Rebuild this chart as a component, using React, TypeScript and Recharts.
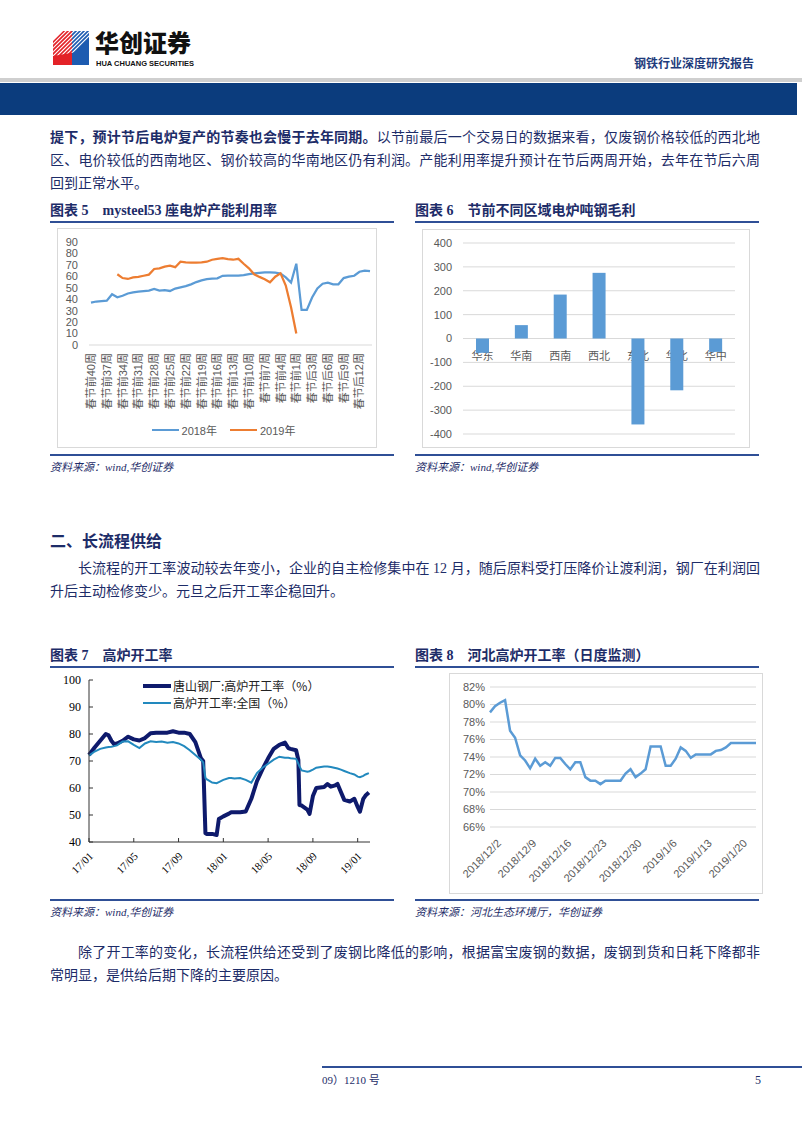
import React from "react";
import { LineChart, Line, BarChart, Bar, XAxis, YAxis, CartesianGrid, Legend } from "recharts";

// 图表5 mysteel53 座电炉产能利用率
const weekLabels = [
  "春节前40周", "春节前39周", "春节前38周", "春节前37周", "春节前36周", "春节前35周",
  "春节前34周", "春节前33周", "春节前32周", "春节前31周", "春节前30周", "春节前29周",
  "春节前28周", "春节前27周", "春节前26周", "春节前25周", "春节前24周", "春节前23周",
  "春节前22周", "春节前21周", "春节前20周", "春节前19周", "春节前18周", "春节前17周",
  "春节前16周", "春节前15周", "春节前14周", "春节前13周", "春节前12周", "春节前11周",
  "春节前10周", "春节前9周", "春节前8周", "春节前7周", "春节前6周", "春节前5周",
  "春节前4周", "春节前3周", "春节前2周", "春节前1周",
  "春节后1周", "春节后2周", "春节后3周", "春节后4周", "春节后5周", "春节后6周",
  "春节后7周", "春节后8周", "春节后9周", "春节后10周", "春节后11周", "春节后12周",
  "春节后13周", "春节后14周",
];
const util2018 = [
  37, 38, 38.3, 38.7, 44.3, 41.7, 43, 45, 46, 46.6, 47, 47.5, 49, 47.5, 48, 47.2,
  49.3, 50.4, 51.5, 53, 55, 56.5, 57.5, 58, 58.3, 60.5, 60.6, 60.6, 60.6, 61, 62,
  62.5, 63, 63.5, 63.5, 63.3, 62.5, 59, 54.5, 71, 30.6, 30.6, 41.5, 49.5, 53.5,
  54.5, 53, 53, 58.5, 59.7, 60.5, 64, 65, 64.5,
];
const util2019 = [
  null, null, null, null, null, 61.8, 58.5, 57.7, 59, 59.5, 60.5, 61.5, 66.4, 67,
  68.5, 69.3, 68, 72.8, 72.2, 72, 72, 72.3, 72.8, 74.5, 75.3, 75.8, 75, 74.5, 75.3,
  71, 67, 61.8, 59.5, 57.5, 54.8, 59.7, 62.6, 52, 33, 10,
  null, null, null, null, null, null, null, null, null, null, null, null, null, null,
];

// 图表6 节前不同区域电炉吨钢毛利
const regions = ["华东", "华南", "西南", "西北", "东北", "华北", "华中"];
const grossMargin = [-60, 56, 184, 275, -360, -217, -56];

// 图表7 高炉开工率 (月份序号, 0 = 17/01)
const bfMonth = [
  0, 0.5, 1, 1.5, 1.75, 2, 2.25, 2.5, 3, 3.5, 4, 4.5, 5, 5.5, 6, 6.5, 7, 7.5, 8, 8.5,
  9, 9.5, 10, 10.2, 10.4, 10.5, 11, 11.4, 11.6, 12, 12.5, 12.7, 13, 13.5, 14, 14.5,
  15, 15.5, 16, 16.5, 17, 17.5, 17.8, 18, 18.5, 18.7, 18.8, 19, 19.5, 19.7, 20, 20.3,
  21, 21.3, 21.6, 22, 22.2, 22.5, 22.8, 23.3, 23.7, 24, 24.2, 24.5, 24.7, 25,
];
const tangshanRate = [
  72.2, 75, 77.5, 80, 79.5, 77.5, 76.2, 76.5, 77.5, 79, 78, 77.6, 78.5, 80.3, 80.5,
  80.5, 80.5, 81, 80.5, 80.5, 80, 77, 71, 70, 43.3, 43, 43, 42.6, 48.5, 49.5, 50.5,
  51, 51, 51, 51.3, 56, 62.5, 67, 71, 74.5, 76, 76.8, 74.8, 74.5, 74, 70.4, 53.7,
  53.5, 52, 50.4, 57, 60, 60.4, 61.5, 60.5, 61, 61.5, 58.5, 55.6, 55, 56, 53, 51.2,
  56, 57.2, 58.3,
];
const nationalRate = [
  72, 73.5, 74.5, 75, 75.2, 75.3, 75.5, 75.8, 77.2, 77.3, 76, 74.8, 76.5, 77.3, 77,
  77.2, 76.8, 77, 76.5, 75.5, 74, 72.2, 70.5, 69.5, 63.7, 63.3, 62, 61.8, 62.2, 63,
  63.7, 63.7, 63.5, 63.7, 63, 62, 65.5, 67.5, 69, 70.5, 71.6, 71.2, 71.2, 71, 70.8,
  69, 68, 66.5, 66, 66.2, 66.8, 67.5, 68, 68, 67.8, 67.4, 67.2, 66.8, 66.3, 65.5, 65,
  64.2, 64, 64.5, 65, 65.5,
];
const bfTickPos = [0, 4, 8, 12, 16, 20, 24];
const bfTickLabels = ["17/01", "17/05", "17/09", "18/01", "18/05", "18/09", "19/01"];

// 图表8 河北高炉开工率（日度监测）
const hbDates = [
  "2018/12/2", "2018/12/3", "2018/12/4", "2018/12/5", "2018/12/6", "2018/12/7", "2018/12/8",
  "2018/12/9", "2018/12/10", "2018/12/11", "2018/12/12", "2018/12/13", "2018/12/14", "2018/12/15",
  "2018/12/16", "2018/12/17", "2018/12/18", "2018/12/19", "2018/12/20", "2018/12/21", "2018/12/22",
  "2018/12/23", "2018/12/24", "2018/12/25", "2018/12/26", "2018/12/27", "2018/12/28", "2018/12/29",
  "2018/12/30", "2018/12/31", "2019/1/1", "2019/1/2", "2019/1/3", "2019/1/4", "2019/1/5",
  "2019/1/6", "2019/1/7", "2019/1/8", "2019/1/9", "2019/1/10", "2019/1/11", "2019/1/12",
  "2019/1/13", "2019/1/14", "2019/1/15", "2019/1/16", "2019/1/17", "2019/1/18", "2019/1/19",
  "2019/1/20", "2019/1/21", "2019/1/22", "2019/1/23", "2019/1/24",
];
const hbRate = [
  79.1, 79.8, 80.2, 80.5, 77, 76.2, 74.2, 73.6, 72.7, 73.8, 73, 73.4, 73, 73.9, 73.9,
  73.2, 72.6, 73.4, 73.4, 71.7, 71.3, 71.3, 70.9, 71.3, 71.3, 71.3, 71.3, 72.1, 72.6,
  71.7, 72.1, 72.6, 75.2, 75.2, 75.2, 73, 73, 73.8, 75.1, 74.7, 73.9, 74.3, 74.3, 74.3,
  74.3, 74.7, 74.8, 75.1, 75.6, 75.6, 75.6, 75.6, 75.6, 75.6,
];

const NAVY = "#1d2c68";
const RULE = "#2f4f96";
const GRAY = "#595959";
const BODY = '"Liberation Serif", "Noto Sans CJK SC", serif';
const SANS = '"Liberation Sans", "Noto Sans CJK SC", sans-serif';
const CJK = '"Noto Sans CJK SC", sans-serif';

const weekData = weekLabels.map((w, i) => ({ week: w, y2018: util2018[i], y2019: util2019[i] }));
const regionData = regions.map((r, i) => ({ region: r, margin: grossMargin[i] }));
const bfData = bfMonth.map((t, i) => ({ t, tangshan: tangshanRate[i], national: nationalRate[i] }));
const hbData = hbDates.map((d, i) => ({ date: d, rate: hbRate[i] }));

function Txt({ x, y, size, children, style }: any) {
  return (
    <div
      style={{
        position: "absolute",
        left: x,
        top: y - (size + 4) / 2,
        fontSize: size,
        lineHeight: `${size + 4}px`,
        whiteSpace: "nowrap",
        ...style,
      }}
    >
      {children}
    </div>
  );
}

function JLine({ x = 50, y, w = 710, last = false, children }: any) {
  return (
    <div
      style={{
        position: "absolute",
        left: x,
        top: y - 11,
        width: w,
        height: 22,
        lineHeight: "22px",
        fontSize: 14,
        fontFamily: BODY,
        color: NAVY,
        whiteSpace: "nowrap",
        textAlign: "justify",
        textAlignLast: last ? "left" : "justify",
      }}
    >
      {children}
    </div>
  );
}

const Rule = ({ x, y, w }: any) => (
  <div style={{ position: "absolute", left: x, top: y, width: w, height: 2, background: RULE }} />
);

const Title = ({ x, y, num, text }: any) => (
  <Txt x={x} y={y} size={14} style={{ fontFamily: BODY, fontWeight: 700, color: NAVY }}>
    图表 {num}
    <span style={{ marginLeft: 14 }}>{text}</span>
  </Txt>
);

const Source = ({ x, y, text }: any) => (
  <Txt x={x} y={y} size={11} style={{ fontFamily: BODY, fontStyle: "italic", color: NAVY }}>
    {text}
  </Txt>
);

const Box = ({ x, y, w, h }: any) => (
  <div
    style={{
      position: "absolute",
      left: x,
      top: y,
      width: w,
      height: h,
      border: "1px solid #d9d9d9",
      boxSizing: "border-box",
    }}
  />
);

// ---------- chart 5 ----------
const WeekTick = ({ x, y, payload }: any) => (
  <text
    x={x}
    y={y}
    transform={`rotate(-90 ${x} ${y})`}
    textAnchor="end"
    dominantBaseline="central"
    fontSize={11}
    fontFamily={SANS}
    fill={GRAY}
  >
    {payload.value}
  </text>
);

const WeekLegend = ({ payload }: any) => (
  <div
    style={{
      display: "flex",
      justifyContent: "center",
      alignItems: "center",
      height: 20,
      fontFamily: SANS,
      fontSize: 11,
      color: GRAY,
    }}
  >
    {(payload || []).map((p: any, i: number) => (
      <div key={i} style={{ display: "flex", alignItems: "center", marginLeft: i ? 13 : 0 }}>
        <span style={{ display: "inline-block", width: 27, height: 2.5, background: p.color, marginRight: 3 }} />
        {p.value}
      </div>
    ))}
  </div>
);

function UtilChart() {
  return (
    <div style={{ position: "absolute", left: 57, top: 228 }}>
      <LineChart width={320} height={220} data={weekData} margin={{ top: 14, right: 5, left: 0, bottom: 30 }}>
        <XAxis
          dataKey="week"
          interval={2}
          height={73}
          padding={{ left: 2, right: 2 }}
          axisLine={{ stroke: "#d9d9d9" }}
          tickLine={false}
          tick={<WeekTick />}
        />
        <YAxis
          domain={[0, 90]}
          ticks={[0, 10, 20, 30, 40, 50, 60, 70, 80, 90]}
          interval={0}
          width={32}
          axisLine={false}
          tickLine={false}
          tickSize={0}
          tickMargin={11}
          tick={{ fontSize: 11, fill: GRAY, fontFamily: SANS }}
        />
        <Legend
          layout="vertical"
          align="center"
          verticalAlign="middle"
          wrapperStyle={{ left: 25, top: 192, width: 283, height: 20 }}
          content={<WeekLegend />}
        />
        <Line name="2018年" dataKey="y2018" stroke="#5B9BD5" strokeWidth={2.25} dot={false} isAnimationActive={false} />
        <Line name="2019年" dataKey="y2019" stroke="#ED7D31" strokeWidth={2.25} dot={false} isAnimationActive={false} />
      </LineChart>
    </div>
  );
}

// ---------- chart 6 ----------
const RegionBar = (props: any) => {
  const { x, y, width, height, payload, fill } = props;
  const top = Math.min(y, y + height);
  const bottom = Math.max(y, y + height);
  const zeroY = payload.margin >= 0 ? bottom : top;
  return (
    <g>
      <text
        x={x + width / 2}
        y={zeroY + 16}
        textAnchor="middle"
        dominantBaseline="central"
        fontSize={11}
        fontFamily={CJK}
        fill={GRAY}
      >
        {payload.region}
      </text>
      <rect x={x} y={top} width={width} height={bottom - top} fill={fill} />
    </g>
  );
};

function MarginChart() {
  return (
    <div style={{ position: "absolute", left: 422, top: 229 }}>
      <BarChart width={328} height={219} data={regionData} margin={{ top: 14, right: 15, left: 0, bottom: 14 }}>
        <CartesianGrid vertical={false} stroke="#d9d9d9" />
        <XAxis dataKey="region" hide />
        <YAxis
          domain={[-400, 400]}
          ticks={[-400, -300, -200, -100, 0, 100, 200, 300, 400]}
          interval={0}
          width={41}
          axisLine={false}
          tickLine={false}
          tickSize={0}
          tickMargin={11}
          tick={{ fontSize: 11, fill: GRAY, fontFamily: SANS }}
        />
        <Bar dataKey="margin" fill="#5B9BD5" barSize={13} shape={<RegionBar />} isAnimationActive={false} />
      </BarChart>
    </div>
  );
}

// ---------- chart 7 ----------
const MonthTick = ({ x, y, payload }: any) => {
  const label = bfTickLabels[bfTickPos.indexOf(payload.value)];
  const ax = x + 2;
  const ay = y + 4;
  return (
    <text
      x={ax}
      y={ay}
      transform={`rotate(-45 ${ax} ${ay})`}
      textAnchor="end"
      dominantBaseline="central"
      fontSize={11}
      fontFamily="Liberation Serif"
      fill="#000"
    >
      {label}
    </text>
  );
};

const BfLegend = ({ payload }: any) => (
  <div style={{ fontFamily: CJK, fontSize: 12, color: "#222" }}>
    {(payload || []).map((p: any, i: number) => (
      <div key={i} style={{ display: "flex", alignItems: "center", height: 17 }}>
        <span
          style={{ display: "inline-block", width: 28, height: i === 0 ? 4 : 2, background: p.color, marginRight: 2 }}
        />
        {p.value}
      </div>
    ))}
  </div>
);

function BlastChart() {
  return (
    <div style={{ position: "absolute", left: 50, top: 670 }}>
      <LineChart width={330} height={215} data={bfData} margin={{ top: 10, right: 10, left: 0, bottom: 0 }}>
        <XAxis
          type="number"
          dataKey="t"
          domain={[0, 25.1]}
          ticks={bfTickPos}
          interval={0}
          height={43}
          stroke="#333"
          tickSize={-4}
          tickMargin={12}
          tick={<MonthTick />}
        />
        <YAxis
          domain={[40, 100]}
          ticks={[40, 50, 60, 70, 80, 90, 100]}
          interval={0}
          width={39}
          stroke="#333"
          tickSize={-4}
          tickMargin={12}
          tick={{ fontSize: 12, fill: "#000", fontFamily: "Liberation Serif" }}
        />
        <Legend
          layout="vertical"
          align="center"
          verticalAlign="middle"
          wrapperStyle={{ left: 93, top: 7, width: 230, height: 34 }}
          content={<BfLegend />}
        />
        <Line
          name="唐山钢厂:高炉开工率（%）"
          dataKey="tangshan"
          stroke="#0e1a6c"
          strokeWidth={4}
          strokeLinejoin="round"
          dot={false}
          isAnimationActive={false}
        />
        <Line
          name="高炉开工率:全国（%）"
          dataKey="national"
          stroke="#2289be"
          strokeWidth={2}
          dot={false}
          isAnimationActive={false}
        />
      </LineChart>
    </div>
  );
}

// ---------- chart 8 ----------
const DateTick = ({ x, y, payload }: any) => {
  const ax = x + 9;
  const ay = y + 6;
  return (
    <text
      x={ax}
      y={ay}
      transform={`rotate(-45 ${ax} ${ay})`}
      textAnchor="end"
      dominantBaseline="central"
      fontSize={11}
      fontFamily={SANS}
      fill={GRAY}
    >
      {payload.value}
    </text>
  );
};

function HebeiChart() {
  return (
    <div style={{ position: "absolute", left: 449, top: 673 }}>
      <LineChart width={314} height={221} data={hbData} margin={{ top: 14, right: 7, left: 0, bottom: 0 }}>
        <CartesianGrid vertical={false} stroke="#d9d9d9" />
        <XAxis dataKey="date" interval={6} height={67} axisLine={false} tickLine={false} tick={<DateTick />} />
        <YAxis
          domain={[66, 82]}
          ticks={[66, 68, 70, 72, 74, 76, 78, 80, 82]}
          interval={0}
          tickFormatter={(v: number) => `${v}%`}
          width={41}
          axisLine={false}
          tickLine={false}
          tickSize={0}
          tickMargin={5}
          tick={{ fontSize: 11, fill: GRAY, fontFamily: SANS }}
        />
        <Line dataKey="rate" stroke="#5B9BD5" strokeWidth={2.5} dot={false} isAnimationActive={false} />
      </LineChart>
    </div>
  );
}

const Logo = () => (
  <svg width={36} height={35} style={{ position: "absolute", left: 53, top: 30 }}>
    <defs>
      <clipPath id="stripes">
        <polygon points="0,11 10,0 36,0 36,20 0,26" />
      </clipPath>
    </defs>
    <polygon points="0,11 10,1 19,1 19,35 0,35" fill="#e32228" />
    <rect x={19} y={1} width={17} height={34} fill="#1d5bb0" />
    <g clipPath="url(#stripes)" stroke="#fff" strokeWidth={1.1}>
      {[6, 10, 14, 18, 22, 26, 30, 34, 38, 42].map((s) => (
        <line key={s} x1={s} y1={0} x2={s - 26} y2={26} />
      ))}
    </g>
  </svg>
);

export default function App() {
  return (
    <div
      style={{
        position: "absolute",
        left: 0,
        top: 0,
        width: 802,
        height: 1133,
        background: "#fff",
        overflow: "hidden",
        fontFamily: BODY,
      }}
    >
      {/* header */}
      <Logo />
      <div
        style={{
          position: "absolute",
          left: 95,
          top: 30,
          height: 24,
          fontSize: 24,
          lineHeight: "24px",
          fontFamily: CJK,
          fontWeight: 900,
          color: "#111",
          whiteSpace: "nowrap",
        }}
      >
        华创证券
      </div>
      <div
        style={{
          position: "absolute",
          left: 96,
          top: 60,
          height: 8,
          fontSize: 7.5,
          lineHeight: "8px",
          fontFamily: "Liberation Sans",
          fontWeight: 700,
          color: "#111",
          whiteSpace: "nowrap",
        }}
      >
        HUA CHUANG SECURITIES
      </div>
      <Txt x={634} y={63} size={12} style={{ fontFamily: CJK, fontWeight: 700, color: "#1f3c7c" }}>
        钢铁行业深度研究报告
      </Txt>
      <div style={{ position: "absolute", left: 0, top: 78, width: 802, height: 4, background: "#cfcfcf" }} />
      <div style={{ position: "absolute", left: 0, top: 83, width: 797, height: 32, background: "#0b3c7d" }} />

      {/* paragraph 1 */}
      <JLine y={138}>
        <b>提下，预计节后电炉复产的节奏也会慢于去年同期。</b>以节前最后一个交易日的数据来看，仅废钢价格较低的西北地
      </JLine>
      <JLine y={161}>
        区、电价较低的西南地区、钢价较高的华南地区仍有利润。产能利用率提升预计在节后两周开始，去年在节后六周
      </JLine>
      <JLine y={184} last>
        回到正常水平。
      </JLine>

      <Title x={50} y={211} num="5" text="mysteel53 座电炉产能利用率" />
      <Title x={415} y={211} num="6" text="节前不同区域电炉吨钢毛利" />
      <Rule x={50} y={221} w={344} />
      <Rule x={415} y={221} w={344} />

      <Box x={57} y={228} w={320} h={220} />
      <UtilChart />
      <Box x={422} y={229} w={328} h={219} />
      <MarginChart />

      <Rule x={50} y={454} w={344} />
      <Rule x={415} y={454} w={344} />
      <Source x={50} y={467} text="资料来源：wind,华创证券" />
      <Source x={415} y={467} text="资料来源：wind,华创证券" />

      {/* section 2 */}
      <Txt x={50} y={542} size={16} style={{ fontFamily: BODY, fontWeight: 700, color: NAVY }}>
        二、长流程供给
      </Txt>
      <JLine x={78} w={682} y={569}>
        长流程的开工率波动较去年变小，企业的自主检修集中在 12 月，随后原料受打压降价让渡利润，钢厂在利润回
      </JLine>
      <JLine y={592} last>
        升后主动检修变少。元旦之后开工率企稳回升。
      </JLine>

      <Title x={50} y={656} num="7" text="高炉开工率" />
      <Title x={415} y={656} num="8" text="河北高炉开工率（日度监测）" />
      <Rule x={50} y={666} w={344} />
      <Rule x={415} y={666} w={344} />

      <BlastChart />
      <Box x={449} y={673} w={314} h={221} />
      <HebeiChart />

      <Rule x={50} y={899} w={344} />
      <Rule x={415} y={899} w={344} />
      <Source x={50} y={912} text="资料来源：wind,华创证券" />
      <Source x={415} y={912} text="资料来源：河北生态环境厅，华创证券" />

      <JLine x={78} w={682} y={953}>
        除了开工率的变化，长流程供给还受到了废钢比降低的影响，根据富宝废钢的数据，废钢到货和日耗下降都非
      </JLine>
      <JLine y={976} last>
        常明显，是供给后期下降的主要原因。
      </JLine>

      {/* footer */}
      <div style={{ position: "absolute", left: 322, top: 1066, width: 480, height: 2, background: RULE }} />
      <Txt x={322} y={1080} size={11} style={{ fontFamily: BODY, color: NAVY }}>
        09）1210 号
      </Txt>
      <Txt x={755} y={1080} size={12} style={{ fontFamily: BODY, color: NAVY }}>
        5
      </Txt>
    </div>
  );
}
